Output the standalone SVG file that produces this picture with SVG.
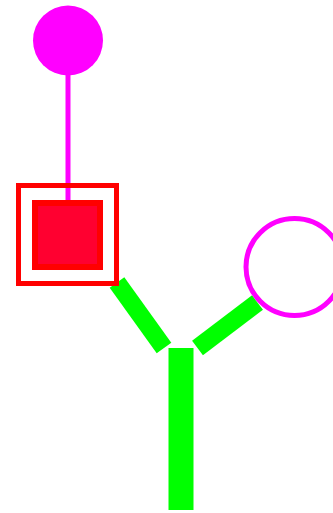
<svg xmlns="http://www.w3.org/2000/svg" width="333" height="513" viewBox="0 0 333 513">
<style>
.mag{fill:#ff00ff}
.ring{fill:#ffffff;stroke:#ff00ff;stroke-width:5}
.frame{fill:none;stroke:#ff0000;stroke-width:5}
.core{fill:#ff0030;stroke:#ff0000;stroke-width:6}
.link{stroke:#ff00ff;stroke-width:5;fill:none}
.g{stroke:#00ff00;fill:none;stroke-linecap:butt}
</style>
<rect width="333" height="513" fill="#ffffff"/>
<g id="connectors">
<line class="link" x1="68" y1="74" x2="68" y2="202"/>
<line class="g" x1="117" y1="282.5" x2="164" y2="348" stroke-width="18"/>
<line class="g" x1="197.5" y1="348" x2="257.5" y2="302.5" stroke-width="18"/>
<line class="g" x1="181" y1="348" x2="181" y2="510" stroke-width="25"/>
</g>
<g id="top-dot"><circle class="mag" cx="68" cy="40.5" r="35"/></g>
<g id="box">
<rect class="frame" x="18.5" y="185.5" width="98" height="98"/>
<rect class="core" x="35" y="203" width="65" height="64"/>
</g>
<g id="ring"><circle class="ring" cx="294.5" cy="267" r="48.5"/></g>
</svg>
